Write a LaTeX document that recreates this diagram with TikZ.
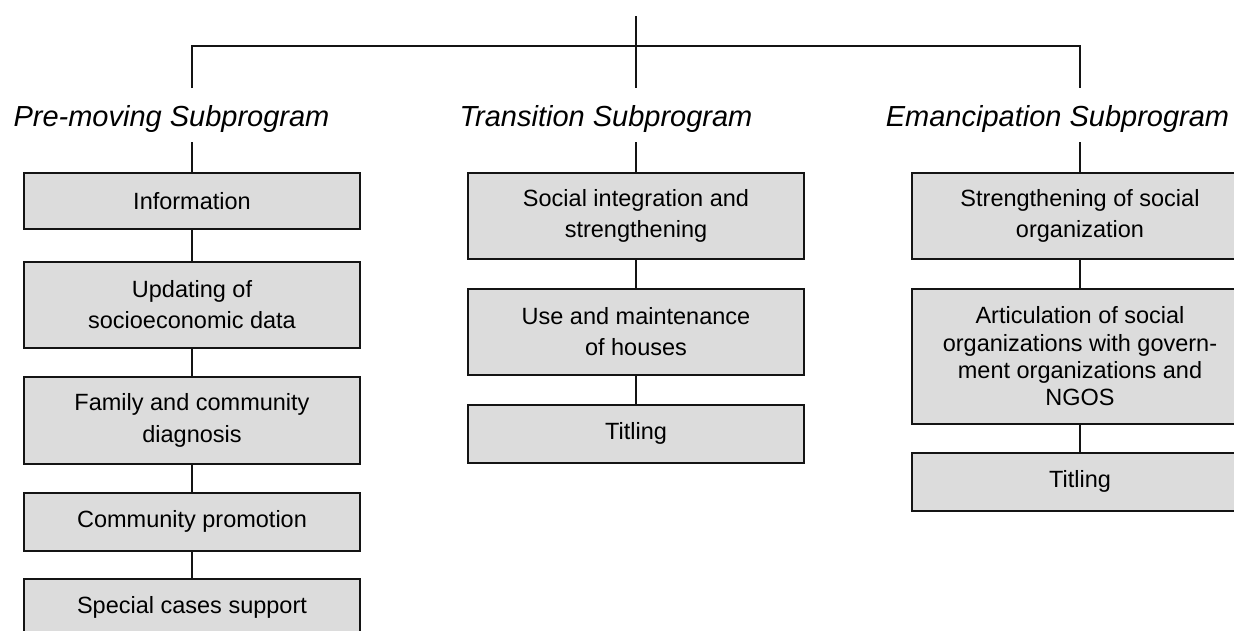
\documentclass[tikz,border=0pt]{standalone}
\usepackage{fontspec}
\setmainfont{Liberation Sans}
\definecolor{boxgray}{RGB}{220,220,220}
\definecolor{linecol}{RGB}{20,20,20}
\begin{document}
\begin{tikzpicture}[x=1pt,y=-1pt,
  box/.style={draw=linecol, line width=1.6pt, fill=boxgray, minimum width=336pt,
    anchor=north, align=center, inner sep=0pt,
    font=\fontsize{23.5}{28}\selectfont},
  wide/.style={font=\fontsize{23.5}{31.5}\selectfont},
  tight/.style={font=\fontsize{23.5}{27.2}\selectfont},
  ttl/.style={anchor=base, inner sep=0pt, font=\fontsize{29}{34}\selectfont\itshape},
  link/.style={draw=linecol, line width=1.5pt}]
\path[use as bounding box] (0,0) rectangle (1234,630);
\clip (0,0) rectangle (1234,630);

% coordinates for the tree bus
\coordinate (root) at (636,16);
\coordinate (bus) at (636,46);
\coordinate (t1a) at (192,88);
\coordinate (t2a) at (636,88);
\coordinate (t3a) at (1080,88);
\coordinate (t1b) at (192,142);
\coordinate (t2b) at (636,142);
\coordinate (t3b) at (1080,142);

% titles
\node[ttl] (t1) at (171.5,126) {Pre-moving Subprogram};
\node[ttl] (t2) at (606,126) {Transition Subprogram};
\node[ttl] (t3) at (1057.5,126) {Emancipation Subprogram};

% left column
\node[box, minimum height=56pt] (l1) at (192,172) {Information};
\node[box, wide, minimum height=86pt] (l2) at (192,261) {Updating of\\socioeconomic data};
\node[box, wide, minimum height=87pt] (l3) at (192,376) {Family and community\\diagnosis};
\node[box, minimum height=58pt] (l4) at (192,492) {Community promotion};
\node[box, minimum height=58pt] (l5) at (192,578) {Special cases support};

% middle column
\node[box, wide, minimum height=86pt] (m1) at (636,172) {Social integration and\\strengthening};
\node[box, wide, minimum height=86pt] (m2) at (636,288) {Use and maintenance\\of houses};
\node[box, minimum height=58pt] (m3) at (636,404) {Titling};

% right column
\node[box, wide, minimum height=86pt] (r1) at (1080,172) {Strengthening of social\\organization};
\node[box, tight, minimum height=135pt] (r2) at (1080,288) {Articulation of social\\organizations with govern-\\ment organizations and\\NGOS};
\node[box, minimum height=58pt] (r3) at (1080,452) {Titling};

% connectors
\draw[link] (root) -- (t2a);
\draw[link] (t1a) |- (bus) -| (t3a);
\draw[link] (t1b) -- (l1.north);
\draw[link] (t2b) -- (m1.north);
\draw[link] (t3b) -- (r1.north);
\draw[link] (l1.south) -- (l2.north);
\draw[link] (l2.south) -- (l3.north);
\draw[link] (l3.south) -- (l4.north);
\draw[link] (l4.south) -- (l5.north);
\draw[link] (m1.south) -- (m2.north);
\draw[link] (m2.south) -- (m3.north);
\draw[link] (r1.south) -- (r2.north);
\draw[link] (r2.south) -- (r3.north);
\end{tikzpicture}
\end{document}
